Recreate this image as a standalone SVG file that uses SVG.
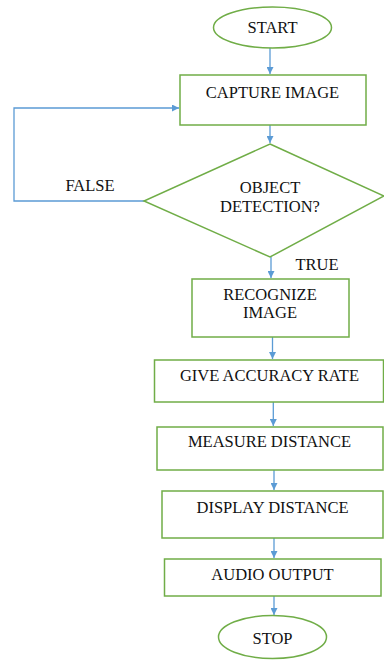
<svg xmlns="http://www.w3.org/2000/svg" width="384" height="660" viewBox="0 0 384 660">
<style>
.n{fill:#fff;stroke:#70ad47;stroke-width:1.5}
.c{fill:none;stroke:#5b9bd5;stroke-width:1.3}
text{font-family:'Liberation Serif','DejaVu Serif',serif;font-size:16.5px;fill:#111;text-anchor:middle}
</style>
<defs>
<marker id="a" viewBox="0 0 10 10" refX="10" refY="5" markerWidth="7" markerHeight="7" markerUnits="userSpaceOnUse" orient="auto">
<path d="M0,0 L10,5 L0,10 z" fill="#5b9bd5"/>
</marker>
</defs>
<rect width="384" height="660" fill="#fff"/>
<g id="connectors">
<path class="c" d="M270,48 V74" marker-end="url(#a)"/>
<path class="c" d="M270,125 V143" marker-end="url(#a)"/>
<path class="c" d="M271,257 V278" marker-end="url(#a)"/>
<path class="c" d="M272.5,337 V359" marker-end="url(#a)"/>
<path class="c" d="M273.3,402 V426" marker-end="url(#a)"/>
<path class="c" d="M274,470 V490" marker-end="url(#a)"/>
<path class="c" d="M274,538 V558" marker-end="url(#a)"/>
<path class="c" d="M274,596 V615" marker-end="url(#a)"/>
<path class="c" d="M144,201 H14 V108 H179" marker-end="url(#a)"/>
<text x="90" y="191">FALSE</text>
<text x="317" y="270">TRUE</text>
</g>
<g id="start">
<ellipse class="n" cx="272.5" cy="27.5" rx="59" ry="20.5"/>
<text x="272.5" y="33">START</text>
</g>
<g id="capture">
<rect class="n" x="180" y="75" width="186" height="50"/>
<text x="272.5" y="98">CAPTURE IMAGE</text>
</g>
<g id="decision">
<polygon class="n" points="270,144 384,196 270,257 144,201"/>
<text x="270" y="192.5">OBJECT</text>
<text x="270" y="211.5">DETECTION?</text>
</g>
<g id="recognize">
<rect class="n" x="192" y="279" width="157" height="58"/>
<text x="270" y="300">RECOGNIZE</text>
<text x="270" y="318">IMAGE</text>
</g>
<g id="accuracy">
<rect class="n" x="154.5" y="360" width="229" height="42"/>
<text x="269.5" y="381">GIVE ACCURACY RATE</text>
</g>
<g id="measure">
<rect class="n" x="157" y="427" width="226" height="43"/>
<text x="269.5" y="446.5">MEASURE DISTANCE</text>
</g>
<g id="display">
<rect class="n" x="162" y="491" width="221" height="47"/>
<text x="272.5" y="512.5">DISPLAY DISTANCE</text>
</g>
<g id="audio">
<rect class="n" x="164.5" y="559" width="216.5" height="37"/>
<text x="272.5" y="579.5">AUDIO OUTPUT</text>
</g>
<g id="stop">
<ellipse class="n" cx="272.5" cy="637" rx="54" ry="21.5"/>
<text x="272.5" y="644">STOP</text>
</g>
</svg>
